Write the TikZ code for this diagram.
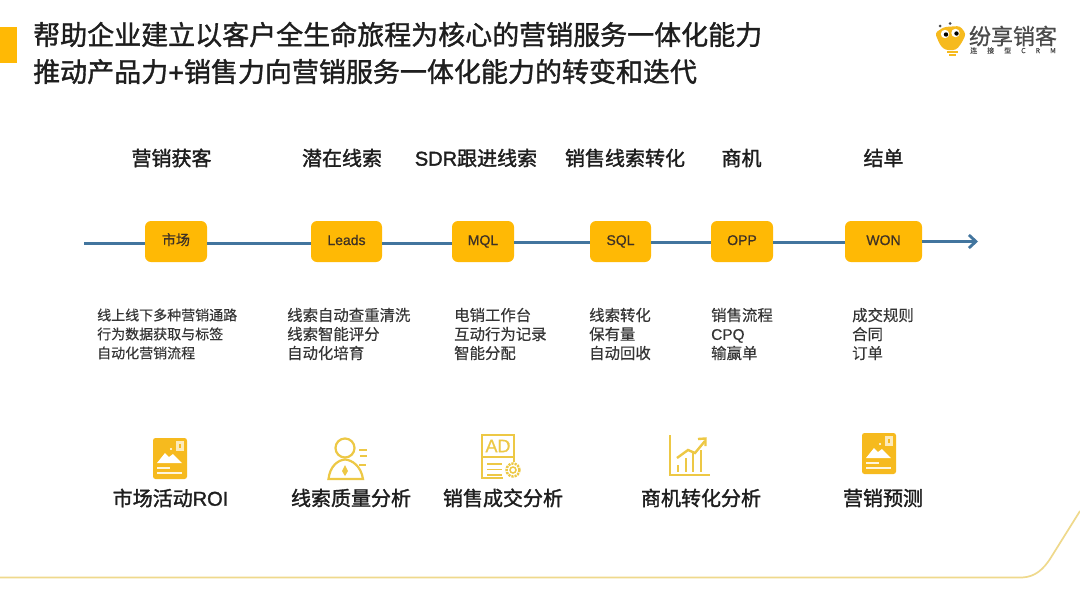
\documentclass[tikz,border=0pt]{standalone}
\usepackage{fontspec}
\setmainfont{Noto Sans CJK SC}
\newfontfamily\cjkreg[FakeBold=0.3]{Noto Sans CJK SC}
\newfontfamily\cjknode[FakeBold=0.7]{Noto Sans CJK SC}
\newfontfamily\cjkmed[FakeBold=1.6]{Noto Sans CJK SC}
\newfontfamily\cjktitle[FakeBold=1.3]{Noto Sans CJK SC}
\newfontfamily\latreg[FakeBold=0.3]{Liberation Sans}
\newfontfamily\latnode[FakeBold=0.7]{Liberation Sans}
\newfontfamily\latmed[FakeBold=1.6]{Liberation Sans}
\usetikzlibrary{arrows.meta}
\definecolor{amberbox}{HTML}{FFB905}
\definecolor{flowblue}{HTML}{42759E}
\definecolor{docgold}{HTML}{F6BA1E}
\definecolor{linegold}{HTML}{EDC845}
\definecolor{curvegold}{HTML}{EFD98C}
\definecolor{inkdark}{HTML}{1E1E1E}
\definecolor{logoink}{HTML}{4A4A4A}
\tikzset{
  x=1pt,y=-1pt,
  stagebox/.style={fill=amberbox,rounded corners=6pt,minimum height=41pt,inner sep=0pt,text=inkdark!80!brown,
    text height=10pt,text depth=3pt,font=\fontsize{14}{14}\selectfont\cjknode},
  flow/.style={draw=flowblue,line width=2.8pt},
  headline/.style={text=inkdark,font=\fontsize{20}{20}\selectfont\cjkmed,inner sep=0pt},
  bodytext/.style={text=inkdark!90,font=\fontsize{15.4}{19}\selectfont\cjkreg,align=left,anchor=west,inner sep=0pt},
  bodysmall/.style={bodytext,font=\fontsize{14}{19}\selectfont\cjkreg},
  titletext/.style={text=inkdark,font=\fontsize{27}{37}\selectfont\cjktitle,align=left,anchor=west,inner sep=0pt},
  iconline/.style={draw=linegold,line width=2.2pt},
}
\newcommand{\docicon}[2]{%
  \begin{scope}[shift={(#1,#2)}]
    \fill[docgold,rounded corners=2.5pt] (0,0) rectangle (34,41);
    \fill[white!70!docgold] (23,2.5) rectangle (31,13);
    \fill[docgold] (26,5.5) rectangle (28,10);
    \fill[white] (4,25) -- (12,15) -- (16,19) -- (20,16) -- (29,25) -- cycle;
    \fill[white] (18,11) circle (1.2);
    \fill[white!85!docgold] (4,29.2) rectangle (17,31);
    \fill[white!85!docgold] (4,34) rectangle (29,36);
  \end{scope}}
\begin{document}
\begin{tikzpicture}
\useasboundingbox (0,0) rectangle (1080,606);
\fill[white] (0,0) rectangle (1080,606);
% corner bar and title
\fill[amberbox] (0,27) rectangle (17,63);
\node[titletext] (title) at (33,53) {帮助企业建立以客户全生命旅程为核心的营销服务一体化能力\\推动产品力{\latmed +}销售力向营销服务一体化能力的转变和迭代};
% logo
\fill[docgold,rounded corners=3pt] (935,33) -- (944,27) -- (960,26) -- (966,34) -- (961,44) -- (956,50) -- (945,50) -- (940,45) -- cycle;
\fill[docgold] (947,51) rectangle (958,53);
\fill[docgold] (949,54) rectangle (956,56);
\fill[logoink] (940,26) circle (1.5) (950,23.5) circle (1.5);
\fill[white] (945,34) circle (4.2) (955.5,33) circle (4.2);
\fill[black] (946,34.5) circle (2.2) (956.5,33.5) circle (2.2);
\node[text=logoink,inner sep=0pt,font=\fontsize{22}{22}\selectfont\cjknode] (brand) at (1013,36) {纷享销客};
\node[text=logoink,inner sep=0pt,font=\fontsize{7}{7}\selectfont\cjkreg] (tag) at (1013,50.5) {连\hspace{10pt}接\hspace{10pt}型\hspace{10pt}C\hspace{10pt}R\hspace{10pt}M};
% headings
\node[headline] (h1) at (171.5,158) {营销获客};
\node[headline] (h2) at (342,158) {潜在线索};
\node[headline] (h3) at (476,158) {{\latmed SDR}跟进线索};
\node[headline] (h4) at (625,158) {销售线索转化};
\node[headline] (h5) at (741.5,158) {商机};
\node[headline] (h6) at (883.5,158) {结单};
% flow
\coordinate (start) at (84,243.5);
\coordinate (finish) at (978,241.5);
\node[stagebox,minimum width=62pt] (market) at (176,241.5) {市场};
\node[stagebox,minimum width=71pt] (leads) at (346.5,241.5) {\latnode Leads};
\node[stagebox,minimum width=62pt] (mql) at (483,241.5) {\latnode MQL};
\node[stagebox,minimum width=61pt] (sql) at (620.5,241.5) {\latnode SQL};
\node[stagebox,minimum width=62pt] (opp) at (742,241.5) {\latnode OPP};
\node[stagebox,minimum width=77pt] (won) at (883.5,241.5) {\latnode WON};
\draw[flow] (start) -- ([yshift=-2pt]market.west);
\draw[flow] ([yshift=-2pt]market.east) -- ([yshift=-2pt]leads.west);
\draw[flow] ([yshift=-2pt]leads.east) -- ([yshift=-2pt]mql.west);
\draw[flow] ([yshift=-1pt]mql.east) -- ([yshift=-1pt]sql.west);
\draw[flow] ([yshift=-1pt]sql.east) -- ([yshift=-1pt]opp.west);
\draw[flow] ([yshift=-1pt]opp.east) -- ([yshift=-1pt]won.west);
\draw[flow,-{Straight Barb[length=7pt,width=13pt,line width=2.8pt]}] (won.east) -- (finish);
% descriptions
\node[bodysmall] (d1) at (97,334) {线上线下多种营销通路\\行为数据获取与标签\\自动化营销流程};
\node[bodytext] (d2) at (287,334) {线索自动查重清洗\\线索智能评分\\自动化培育};
\node[bodytext] (d3) at (454,334) {电销工作台\\互动行为记录\\智能分配};
\node[bodytext] (d4) at (589,334) {线索转化\\保有量\\自动回收};
\node[bodytext] (d5) at (711,334) {销售流程\\{\latreg CPQ}\\输赢单};
\node[bodytext] (d6) at (852,334) {成交规则\\合同\\订单};
% icons
\docicon{153}{438}
\begin{scope}
  \draw[iconline] (345,448) circle (9.5);
  \draw[iconline] (328.5,479) .. controls (330,466) and (338,460) .. (345,459.5) .. controls (352,460) and (361,466) .. (363,479) -- cycle;
  \fill[linegold] (345,465) -- (342,471) -- (345,476) -- (348,471) -- cycle;
  \draw[iconline] (359,450) -- (367,450) (360,456) -- (367,456) (359,465) -- (366,465);
\end{scope}
\begin{scope}
  \draw[iconline,line width=1.8pt] (503,478) -- (482,478) -- (482,435) -- (514,435) -- (514,462);
  \draw[iconline,line width=1.8pt] (482,457) -- (514,457);
  \node[text=linegold,inner sep=0pt,font=\fontsize{18}{18}\selectfont\latnode] (adtag) at (498,446) {AD};
  \draw[iconline,line width=1.7pt] (487,464) -- (502,464) (487,469.5) -- (502,469.5) (487,475) -- (502,475);
  \draw[iconline,line width=2.4pt,dash pattern=on 2.2pt off 1pt] (513,470) circle (6.5);
  \draw[iconline,line width=1.5pt] (513,470) circle (3);
\end{scope}
\begin{scope}
  \draw[iconline,line width=2.2pt] (670,435) -- (670,475) -- (710,475);
  \draw[iconline,line width=2.4pt] (678,465) -- (678,472) (686,458) -- (686,472) (693,453) -- (693,472) (701,450) -- (701,472);
  \draw[iconline,line width=2.4pt] (677,458) -- (688,450) -- (695,453) -- (705,441);
  \draw[iconline,line width=2.4pt] (698,439) -- (705.5,438.5) -- (705.5,446);
\end{scope}
\docicon{862}{433}
% bottom labels
\node[headline] (b1) at (170.5,498) {市场活动{\latmed ROI}};
\node[headline] (b2) at (351,498) {线索质量分析};
\node[headline] (b3) at (503,498) {销售成交分析};
\node[headline] (b4) at (701,498) {商机转化分析};
\node[headline] (b5) at (883,498) {营销预测};
% corner line
\draw[curvegold,line width=1.7pt] (0,577.5) -- (1022,577.5) .. controls (1036,577) and (1044,568) .. (1050,559) -- (1080,511);
\end{tikzpicture}
\end{document}
